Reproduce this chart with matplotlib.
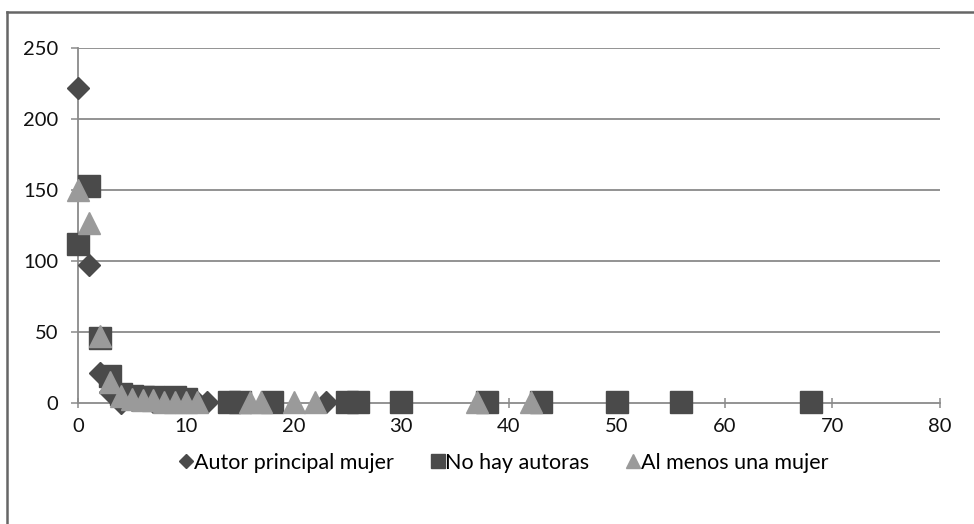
import matplotlib
matplotlib.use("Agg")
import matplotlib.pyplot as plt
from matplotlib.lines import Line2D

plt.rcParams['font.family'] = ['Lato', 'DejaVu Sans']

# Data
series_names = ["Autor principal mujer", "No hay autoras", "Al menos una mujer"]

diam_x = [0, 1, 2, 3, 4, 5, 6, 7, 8, 9, 10, 11, 12, 23]
diam_y = [222, 97, 21, 8, 0, 2, 2, 1, 1, 1, 1, 1, 1, 1]

sq_x = [0, 1, 2, 3, 4, 5, 6, 7, 8, 9, 10, 14, 15, 18, 25, 26, 30, 38, 43, 50, 56, 68]
sq_y = [112, 153, 46, 19, 6, 5, 4, 4, 3, 4, 3, 1, 1, 1, 1, 1, 1, 1, 1, 1, 1, 1]

tri_x = [0, 1, 2, 3, 4, 5, 6, 7, 8, 9, 10, 11, 16, 17, 20, 22, 37, 42]
tri_y = [150, 127, 47, 15, 5, 3, 2, 2, 1, 1, 1, 1, 1, 1, 1, 1, 1, 1]

x_ticks = [0, 10, 20, 30, 40, 50, 60, 70, 80]
y_ticks = [0, 50, 100, 150, 200, 250]

dark = '#4a4a4a'
light = '#9a9a9a'
grid_c = '#8a8a8a'

fig = plt.figure(figsize=(9.74, 5.24), dpi=100)
ax = fig.add_axes([78/974, 1-403/524, (940-78)/974, (403-48)/524])

ax.plot(diam_x, diam_y, linestyle='none', marker='D', ms=11, color=dark, mec=dark, zorder=3, clip_on=False)
ax.plot(sq_x, sq_y, linestyle='none', marker='s', ms=15.5, color=dark, mec=dark, zorder=4, clip_on=False)
ax.plot(tri_x, tri_y, linestyle='none', marker='^', ms=15.5, color=light, mec=light, zorder=5, clip_on=False)

ax.set_xlim(0, 80)
ax.set_ylim(0, 250)
ax.set_xticks(x_ticks)
ax.set_yticks(y_ticks)
ax.set_xticklabels([str(t) for t in x_ticks])
ax.set_yticklabels([str(t) for t in y_ticks])

for yv in y_ticks[1:]:
    ax.axhline(yv, color=grid_c, lw=1.3, zorder=1)

for s in ['top', 'right']:
    ax.spines[s].set_visible(False)
for s in ['left', 'bottom']:
    ax.spines[s].set_color(grid_c)
    ax.spines[s].set_linewidth(1.3)

ax.tick_params(axis='x', direction='inout', length=7, width=1.1, color=grid_c,
               labelsize=14.5, labelcolor='#111111', pad=7)
ax.tick_params(axis='y', direction='out', length=5, width=1.1, color=grid_c,
               labelsize=14.5, labelcolor='#111111', pad=9)

handles = [
    Line2D([], [], linestyle='none', marker='D', ms=7, color=dark),
    Line2D([], [], linestyle='none', marker='s', ms=10, color=dark),
    Line2D([], [], linestyle='none', marker='^', ms=10, color=light),
]
fig.legend(handles, series_names, loc='center', bbox_to_anchor=(504/974, 1-463/524), ncol=3,
           frameon=False, fontsize=15.5, handlelength=0.6, handletextpad=0.05,
           columnspacing=1.75, borderaxespad=0)

# outer border (left and top visible)
fig.add_artist(Line2D([7/974, 7/974], [0, 1-12/524], transform=fig.transFigure, color='#666666', lw=1.8))
fig.add_artist(Line2D([7/974, 1], [1-12/524, 1-12/524], transform=fig.transFigure, color='#666666', lw=1.8))

fig.savefig('out.png', dpi=100, facecolor='white')
